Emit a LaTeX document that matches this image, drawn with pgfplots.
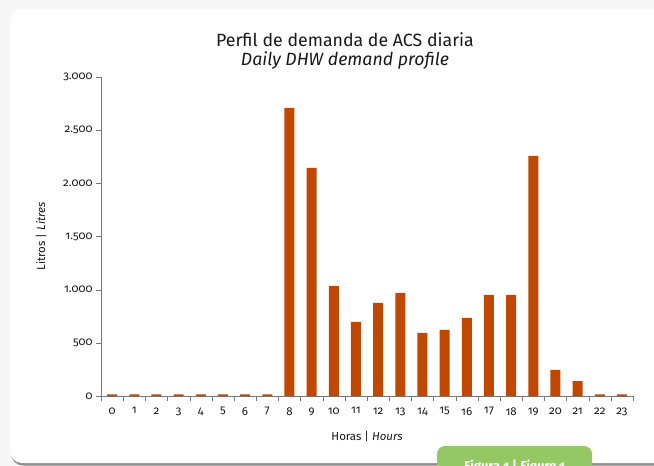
\documentclass[border=0pt]{standalone}
\usepackage{fontspec}
\setmainfont{Fira Sans}[Numbers=OldStyle]
\usepackage{pgfplots}
\pgfplotsset{compat=1.18}
\definecolor{barc}{RGB}{193,72,0}
\definecolor{tabc}{RGB}{148,200,100}
\definecolor{axc}{RGB}{120,120,120}
\begin{document}
\begin{tikzpicture}[x=1bp,y=1bp]
\clip (0,0) rectangle (654,-466);
\fill[black!3] (0,0) rectangle (654,-466);
\fill[black!45,rounded corners=12bp] (11,-12) rectangle (680,-465.5);
\fill[white,rounded corners=12bp] (10,-9) rectangle (680,-463);
\begin{axis}[
  at={(101bp,-396bp)}, anchor=south west,
  scale only axis, width=532bp, height=319bp,
  xmin=-0.5, xmax=23.5, ymin=0, ymax=3000,
  axis lines=left, axis line style={axc, -},
  ybar, bar width=10bp,
  xtick={0,...,23}, major x tick style={draw=none},
  minor xtick={-0.5,0.5,...,23.5},
  minor x tick style={axc}, minor tick length=5bp,
  ytick={0,500,...,3000},
  ytick style={axc}, major tick length=5bp,
  tick align=outside,
  tick label style={font=\fontsize{11.5}{13}\selectfont, text=black!90},
  /pgf/number format/assume math mode=true,
  /pgf/number format/1000 sep={.},
  scaled y ticks=false,
  xticklabel style={yshift=-3bp},
  ylabel={Litros | \textit{Litres}},
  xlabel={Horas | \textit{Hours}},
  label style={font=\fontsize{11.5}{13}\selectfont, text=black!90},
  ylabel style={at={(axis description cs:-0.1128,0.5)}, anchor=center},
  xlabel style={at={(axis description cs:0.5,0)}, anchor=center, yshift=-40bp},
  clip=false,
]
\addplot[fill=barc, draw=none] coordinates {
(0,15) (1,15) (2,15) (3,15) (4,15) (5,15) (6,15) (7,15)
(8,2710) (9,2145) (10,1035) (11,696) (12,875) (13,969)
(14,593) (15,621) (16,734) (17,950) (18,950) (19,2258)
(20,245) (21,140) (22,15) (23,15)
};
\end{axis}
\node[font=\fontsize{17.8}{19.5}\selectfont, text=black!90, align=center, anchor=north] at (345,-29)
  {Perfil de demanda de ACS diaria\\\textit{Daily DHW demand profile}};
\fill[tabc, rounded corners=8bp] (437,-446) rectangle (592,-490);
\node[text=white, font=\bfseries\fontsize{13}{15}\selectfont, anchor=base] at (514.5,-470) {Figura 1 | \textit{Figure 1}};
\end{tikzpicture}
\end{document}
